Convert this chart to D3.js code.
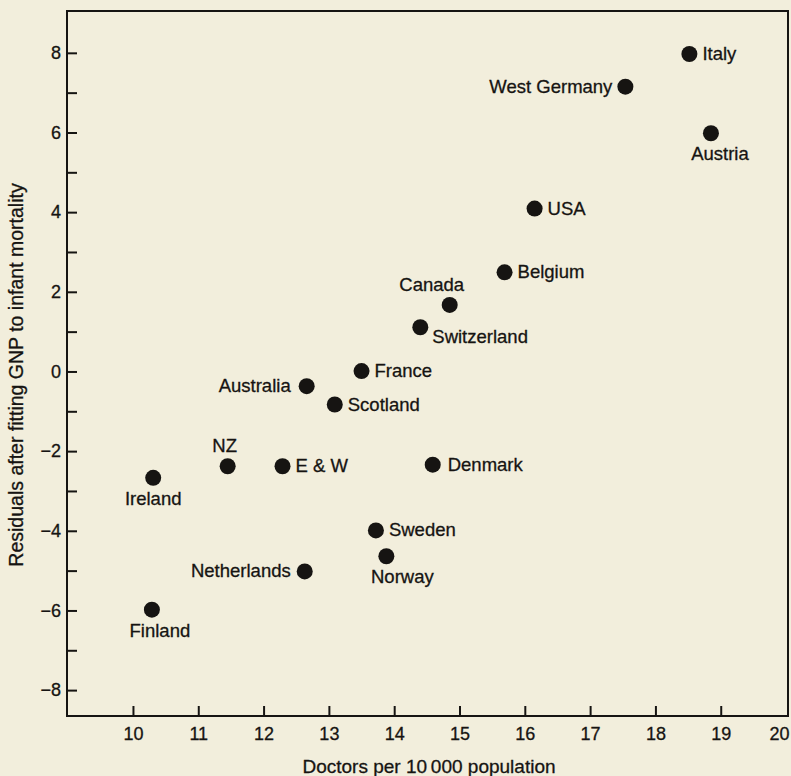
<!DOCTYPE html>
<html>
<head>
<meta charset="utf-8">
<script src="https://cdn.jsdelivr.net/npm/d3@7"></script>
<style>
  html, body { margin: 0; padding: 0; background: #f2eedc; }
  svg { display: block; }
  text { font-family: "Liberation Sans", Arial, Helvetica, sans-serif; fill: #161412;
         stroke: #161412; stroke-width: 0.3px; }
</style>
</head>
<body>
<svg id="chart" width="791" height="776"></svg>
<script>
// Data
const countries = ["Italy", "West Germany", "Austria", "USA", "Belgium", "Canada",
  "Switzerland", "France", "Australia", "Scotland", "NZ", "E & W", "Ireland",
  "Denmark", "Sweden", "Norway", "Netherlands", "Finland"];
const doctors = [18.52, 17.54, 18.85, 16.15, 15.69, 14.85, 14.40, 13.50, 12.66, 13.09,
  11.45, 12.29, 10.31, 14.59, 13.72, 13.88, 12.63, 10.29];
const residuals = [7.97, 7.15, 5.98, 4.09, 2.49, 1.67, 1.11, 0.01, -0.37, -0.83,
  -2.38, -2.38, -2.67, -2.34, -3.99, -4.64, -5.02, -5.98];

// Where each label sits relative to its dot
const labelSide = ["right", "left", "below", "right", "right", "above",
  "below-right", "right", "left", "right", "above", "right", "below",
  "right", "right", "below", "left", "below"];
const labelShift = [0, 0, 9, 0, 0, -18, 0, 0, -3, 0, -3, 0, 0, 2, 0, 16, -1, 8];

const xTicks = [10, 11, 12, 13, 14, 15, 16, 17, 18, 19, 20];
const yTicks = [-8, -6, -4, -2, 0, 2, 4, 6, 8];
const yMinorTicks = [-7, -5, -3, -1, 1, 3, 5, 7];

const margin = { left: 67, right: 3, top: 11, bottom: 60 };
const width = 791, height = 776;

const svg = d3.select("#chart");

const x = d3.scaleLinear().domain([8.99, 20.03]).range([margin.left, width - margin.right]);
const y = d3.scaleLinear().domain([-8.65, 9.05]).range([height - margin.bottom, margin.top]);

const ink = "#161412";
const font = "Liberation Sans, Arial, sans-serif";

// frame
svg.append("rect")
  .attr("x", x.range()[0]).attr("y", y.range()[1])
  .attr("width", x.range()[1] - x.range()[0])
  .attr("height", y.range()[0] - y.range()[1])
  .attr("fill", "none").attr("stroke", ink).attr("stroke-width", 2);

// y axis, ticks pointing inward
const yAxis = svg.append("g").attr("transform", `translate(${margin.left},0)`);
yAxis.call(d3.axisRight(y).tickValues(yTicks).tickSize(10).tickFormat(d => d < 0 ? "\u2212" + Math.abs(d) : d));
yAxis.select(".domain").remove();
yAxis.selectAll(".tick line").attr("stroke", ink).attr("stroke-width", 2);
yAxis.selectAll(".tick text")
  .attr("x", -6).attr("text-anchor", "end")
  .style("font-size", "18px").style("font-family", font)
  .attr("fill", ink);

const yMinor = svg.append("g").attr("transform", `translate(${margin.left},0)`);
yMinor.call(d3.axisRight(y).tickValues(yMinorTicks).tickSize(10).tickFormat(""));
yMinor.select(".domain").remove();
yMinor.selectAll(".tick line").attr("stroke", ink).attr("stroke-width", 2);

// x axis, ticks pointing up
const xAxis = svg.append("g").attr("transform", `translate(0,${height - margin.bottom})`);
xAxis.call(d3.axisTop(x).tickValues(xTicks).tickSize(10));
xAxis.select(".domain").remove();
xAxis.selectAll(".tick line").attr("stroke", ink).attr("stroke-width", 2)
  .filter(d => d === 20).remove();
xAxis.selectAll(".tick text")
  .attr("y", 24).attr("dy", 0)
  .style("font-size", "18px").style("font-family", font)
  .attr("fill", ink)
  .filter(d => d === 20)
  .attr("text-anchor", "end").attr("x", 3);

// axis titles
svg.append("text")
  .attr("x", 429).attr("y", 773)
  .attr("text-anchor", "middle")
  .style("font-size", "19px")
  .text("Doctors per 10\u2009000 population");

svg.append("text")
  .attr("transform", `translate(23,375) rotate(-90)`)
  .attr("text-anchor", "middle")
  .style("font-size", "19.5px")
  .text("Residuals after fitting GNP to infant mortality");

// points
const pts = countries.map((name, i) => ({ name, dx: doctors[i], r: residuals[i], side: labelSide[i], shift: labelShift[i] }));

svg.append("g").selectAll("circle")
  .data(pts).join("circle")
  .attr("cx", d => x(d.dx)).attr("cy", d => y(d.r))
  .attr("r", 8).attr("fill", ink);

const place = {
  "right":       { dx: 13, dy: 6, anchor: "start" },
  "left":        { dx: -13, dy: 6, anchor: "end" },
  "below":       { dx: 0, dy: 27, anchor: "middle" },
  "above":       { dx: 0, dy: -14, anchor: "middle" },
  "below-right": { dx: 12, dy: 16, anchor: "start" }
};

svg.append("g").selectAll("text")
  .data(pts).join("text")
  .attr("x", d => x(d.dx) + place[d.side].dx + d.shift)
  .attr("y", d => y(d.r) + place[d.side].dy)
  .attr("text-anchor", d => place[d.side].anchor)
  .style("font-size", "18.5px")
  .text(d => d.name);
</script>
</body>
</html>
